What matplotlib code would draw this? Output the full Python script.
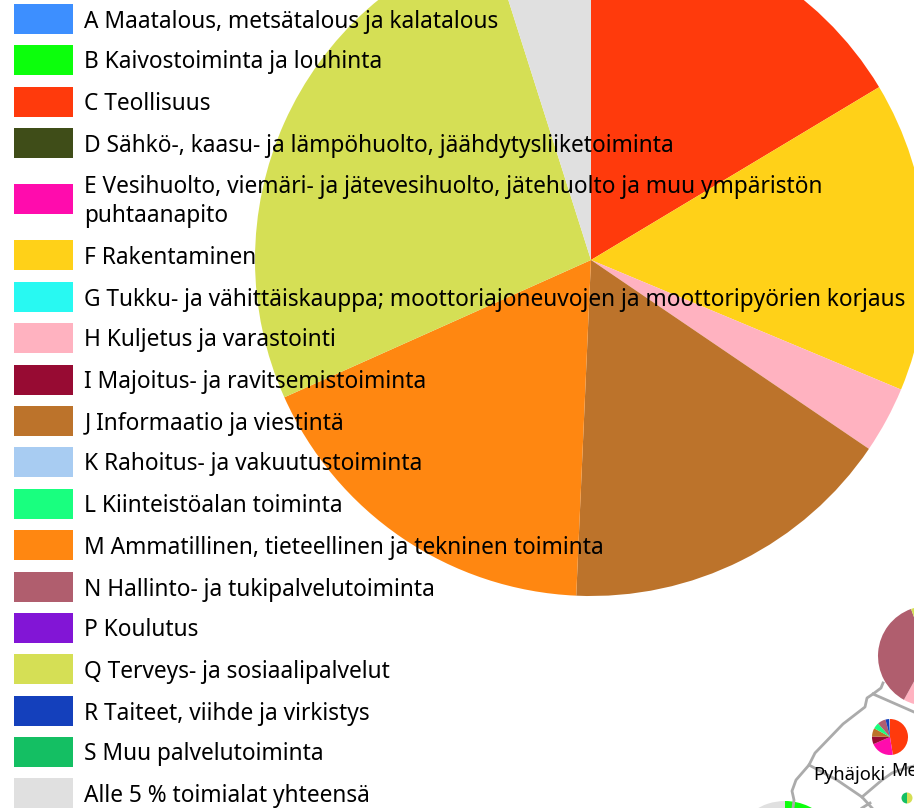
import matplotlib
matplotlib.use("Agg")
import matplotlib.pyplot as plt
from matplotlib.patches import Rectangle

W, H = 914, 808

# Legend
luokat = [
    "A Maatalous, metsätalous ja kalatalous",
    "B Kaivostoiminta ja louhinta",
    "C Teollisuus",
    "D Sähkö-, kaasu- ja lämpöhuolto, jäähdytysliiketoiminta",
    "E Vesihuolto, viemäri- ja jätevesihuolto, jätehuolto ja muu ympäristön\npuhtaanapito",
    "F Rakentaminen",
    "G Tukku- ja vähittäiskauppa; moottoriajoneuvojen ja moottoripyörien korjaus",
    "H Kuljetus ja varastointi",
    "I Majoitus- ja ravitsemistoiminta",
    "J Informaatio ja viestintä",
    "K Rahoitus- ja vakuutustoiminta",
    "L Kiinteistöalan toiminta",
    "M Ammatillinen, tieteellinen ja tekninen toiminta",
    "N Hallinto- ja tukipalvelutoiminta",
    "P Koulutus",
    "Q Terveys- ja sosiaalipalvelut",
    "R Taiteet, viihde ja virkistys",
    "S Muu palvelutoiminta",
    "Alle 5 % toimialat yhteensä",
]
varit = {
    "A": "#3D8FFF", "B": "#0CFF0C", "C": "#FF3A0C", "D": "#3F4D18", "E": "#FF0CAD",
    "F": "#FFD118", "G": "#28F9F2", "H": "#FFB2C0", "I": "#970B33", "J": "#BC732B",
    "K": "#A8CCF2", "L": "#19FF7F", "M": "#FF8711", "N": "#B05E6E", "P": "#8215D6",
    "Q": "#D5DF55", "R": "#1440BC", "S": "#14BF63", "muu": "#E0E0E0",
}
avaimet = list("ABCDEFGHIJKLMNPQRS") + ["muu"]
legend_y = [19, 60, 102, 143, 199, 255, 297, 338, 380, 421, 462, 504, 545, 587, 628, 669, 711, 752, 793]

# Pies: share of each sector, %
iso_tol = ["C", "F", "H", "J", "M", "Q", "muu"]
iso_arvot = [16.4, 14.9, 3.2, 16.2, 17.6, 26.8, 4.9]
oikea_tol = ["H", "N", "Q"]
oikea_arvot = [58.0, 36.5, 5.5]
pieni_tol = ["C", "E", "I", "J", "L", "N", "R", "muu"]
pieni_arvot = [47.5, 21.0, 7.0, 7.5, 5.5, 7.5, 3.5, 0.5]
mini_tol = ["Q", "S"]
mini_arvot = [50, 50]
ala_tol = ["B", "C", "muu"]
ala_arvot = [14, 6, 80]

# Municipality borders, picture pixels
rannikko_x = [883, 881, 873, 867, 865, 843, 815, 809, 796, 792, 794, 793]
rannikko_y = [683, 688, 694, 698, 707, 724, 753, 765, 780, 791, 800, 808]
raja1_x = [873, 914]
raja1_y = [694, 712]
raja2_x = [809, 837, 862, 872]
raja2_y = [765, 780, 797, 808]
raja3_x = [862, 882, 892, 900, 914]
raja3_y = [797, 780, 773, 770, 766]
raja4_x = [862, 870]
raja4_y = [808, 803]

fig = plt.figure(figsize=(W / 100, H / 100), dpi=100)
ax = fig.add_axes([0, 0, 1, 1])


def piirakka(arvot, tol, kx, ky, r):
    ax.pie(arvot, colors=[varit[t] for t in tol], center=(kx, H - ky), radius=r,
           startangle=90, counterclock=False, frame=True)


for xs, ys in [(rannikko_x, rannikko_y), (raja1_x, raja1_y), (raja2_x, raja2_y),
               (raja3_x, raja3_y), (raja4_x, raja4_y)]:
    ax.plot(xs, [H - y for y in ys], color="#ABABAB", lw=2, solid_joinstyle="round")

piirakka(iso_arvot, iso_tol, 591, 260, 336)
piirakka(oikea_arvot, oikea_tol, 928, 656, 50)
piirakka(pieni_arvot, pieni_tol, 890, 737, 18)
piirakka(mini_arvot, mini_tol, 907, 798, 5.5)
piirakka(ala_arvot, ala_tol, 785, 856, 55)

for y, nimi, avain in zip(legend_y, luokat, avaimet):
    ax.add_patch(Rectangle((14, H - y - 15), 59, 30, fc=varit[avain], ec="none", zorder=5))
    ax.text(84.5, H - y - 2.5, nimi, fontsize=16.35, family="Noto Sans", va="center", ha="left",
            color="black", linespacing=1.25, zorder=6)

ax.text(813, H - 775, "Pyhäjoki", fontsize=13.2, family="Noto Sans", va="center", zorder=6)
ax.text(891, H - 771, "Me", fontsize=13, family="Noto Sans", va="center", zorder=6)

ax.set_xlim(0, W)
ax.set_ylim(0, H)
ax.set_aspect("auto")
ax.axis("off")
fig.savefig("out.png", dpi=100)
